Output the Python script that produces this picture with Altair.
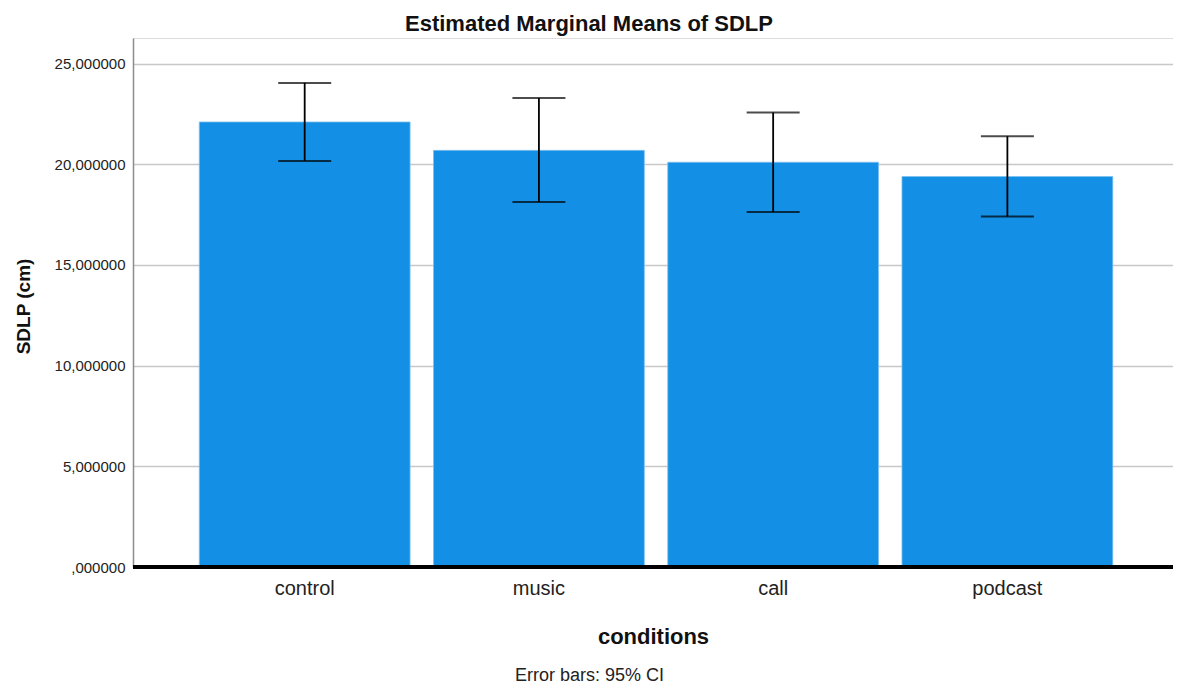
import altair as alt
import pandas as pd

conditions = ["control", "music", "call", "podcast"]
means = [22.10, 20.69, 20.10, 19.39]
ci_low = [20.16, 18.13, 17.63, 17.40]
ci_high = [24.04, 23.29, 22.57, 21.39]
y_ticks = [0, 5, 10, 15, 20, 25]
title_text = "Estimated Marginal Means of SDLP"
y_title = "SDLP (cm)"
x_title = "conditions"
footnote = "Error bars: 95% CI"

df = pd.DataFrame({"condition": conditions, "mean": means, "lo": ci_low, "hi": ci_high})
FONT = "Liberation Sans"

x_scale = alt.Scale(paddingInner=0.1, paddingOuter=0.27, align=0.524)

x_enc = alt.X(
    "condition:N",
    sort=conditions,
    scale=x_scale,
    axis=alt.Axis(
        title=x_title, labelFontSize=20, labelPadding=11, labelColor="#222222",
        labelFont=FONT, ticks=False, domain=False, labelAngle=0,
        titleFont=FONT, titleFontSize=22, titleFontWeight="bold", titleColor="#111111",
        titleY=76, titleBaseline="alphabetic",
    ),
)

y_scale = alt.Scale(domain=[0, 26.27], nice=False, zero=True)

bars = alt.Chart(df).mark_bar(color="#1390e5", stroke="#7cc0ef", strokeWidth=0.8).encode(
    x=x_enc,
    y=alt.Y(
        "mean:Q",
        scale=y_scale,
        axis=alt.Axis(
            values=y_ticks, title=y_title, labelFontSize=15, labelFont=FONT,
            labelColor="#222222", labelPadding=8, ticks=False,
            labelExpr="datum.value == 0 ? ',000000' : replace(format(datum.value, '.6f'), '.', ',')",
            domainColor="#8c8c8c", domainWidth=1.5,
            gridColor="#c8c8c8", gridWidth=1.5,
            titleFont=FONT, titleFontSize=19, titleFontWeight="bold", titleColor="#111111",
            titleX=-104, titleY=268, titleBaseline="alphabetic",
        ),
    ),
)

err_rule = alt.Chart(df).mark_rule(color="black", strokeWidth=1.8).encode(
    x=alt.X("condition:N", sort=conditions),
    y=alt.Y("lo:Q", scale=y_scale),
    y2="hi:Q",
)
cap_lo = alt.Chart(df).mark_tick(color="black", size=53, thickness=2, orient="horizontal").encode(
    x=alt.X("condition:N", sort=conditions),
    y=alt.Y("lo:Q", scale=y_scale),
)
cap_hi = alt.Chart(df).mark_tick(color="black", size=53, thickness=2, orient="horizontal").encode(
    x=alt.X("condition:N", sort=conditions),
    y=alt.Y("hi:Q", scale=y_scale),
)

base_rule = alt.Chart(df).mark_rule(color="black", strokeWidth=3.5).encode(
    y=alt.datum(0, scale=y_scale)
)

foot = alt.Chart(pd.DataFrame({"t": [footnote]})).mark_text(
    font=FONT, fontSize=18, color="#222222", align="center", baseline="alphabetic"
).encode(text="t:N", x=alt.value(456.5), y=alt.value(643))

chart = alt.layer(bars, err_rule, cap_lo, cap_hi, base_rule, foot).properties(
    width=1040,
    height=529,
    autosize=alt.AutoSizeParams(type="none"),
    padding={"left": 125, "top": 30, "right": 0, "bottom": 117},
    title=alt.TitleParams(
        title_text, font=FONT, fontSize=22, fontWeight="bold", color="#111111",
        anchor="middle", dx=-64, dy=22, offset=7, baseline="alphabetic",
    ),
).configure_view(stroke=None).configure(background="white")

chart.save("out.html", embed_options={"renderer": "svg", "actions": False})
